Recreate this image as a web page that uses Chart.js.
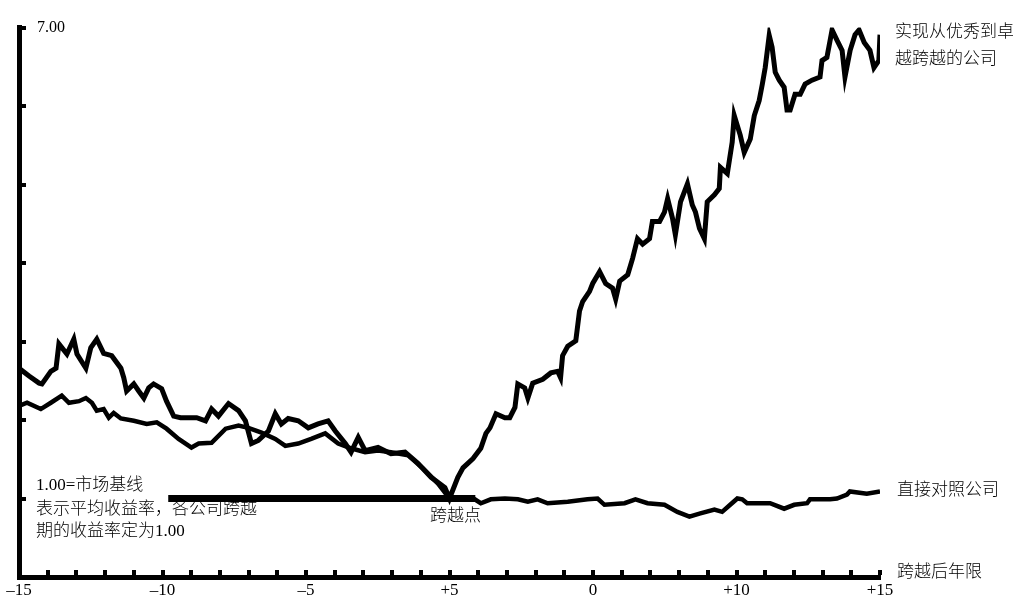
<!DOCTYPE html>
<html><head><meta charset="utf-8">
<script src="https://cdn.jsdelivr.net/npm/chart.js@4.4.0/dist/chart.umd.min.js"></script>
<style>html,body{margin:0;padding:0;background:#fff;}#wrap{width:1032px;height:613px;}</style>
</head><body><div id="wrap"><canvas id="c" width="1032" height="613"></canvas></div>
<script>
// ---- data (years relative to transition point; cumulative return vs market = 1.00) ----
const greatYears = [-15,-14.65,-14.3,-14.2,-13.89,-13.71,-13.61,-13.33,-13.09,-12.98,-12.67,-12.5,-12.29,-12.05,-11.77,-11.45,-11.35,-11.25,-11,-10.83,-10.65,-10.48,-10.31,-10.03,-9.86,-9.61,-9.37,-8.81,-8.5,-8.29,-8.05,-7.7,-7.35,-7.11,-6.9,-6.66,-6.31,-6.07,-5.86,-5.62,-5.27,-4.92,-4.58,-4.23,-3.98,-3.63,-3.43,-3.18,-2.94,-2.49,-2.04,-1.55,-1.1,-0.64,-0.16,0,
  0.29,0.47,0.82,1.09,1.27,1.41,1.62,1.93,2.1,2.28,2.38,2.62,2.73,2.9,3.25,3.53,3.77,3.87,3.94,4.12,4.4,4.53,4.64,4.88,4.99,5.23,5.44,5.68,5.79,5.93,6.21,6.38,6.55,6.73,6.97,7.07,7.32,7.49,7.6,7.77,7.87,8.05,8.29,8.46,8.57,8.71,8.88,8.98,9.23,9.4,9.44,9.68,9.85,9.92,10.13,10.27,10.48,10.62,10.79,10.9,11,11.14,11.24,11.35,11.49,11.66,11.76,11.87,12.04,12.22,12.39,12.63,12.91,12.98,13.15,13.33,13.5,13.68,13.78,13.96,14.13,14.27,14.45,14.65,14.79,14.96,15];
const greatValues = [2.66,2.56,2.47,2.46,2.62,2.66,2.97,2.84,3.03,2.84,2.66,2.92,3.03,2.85,2.82,2.66,2.54,2.37,2.46,2.37,2.28,2.41,2.46,2.4,2.24,2.05,2.03,2.03,1.99,2.14,2.05,2.21,2.12,1.99,1.7,1.74,1.86,2.08,1.95,2.02,1.99,1.9,1.95,1.99,1.86,1.7,1.59,1.78,1.61,1.65,1.57,1.59,1.45,1.27,1.14,1.0,
  1.27,1.39,1.51,1.64,1.83,1.9,2.08,2.03,2.03,2.16,2.46,2.41,2.28,2.47,2.52,2.6,2.62,2.54,2.82,2.94,3.01,3.39,3.51,3.64,3.74,3.89,3.74,3.68,3.54,3.77,3.85,4.06,4.31,4.24,4.31,4.53,4.53,4.65,4.82,4.57,4.36,4.78,5.01,4.74,4.65,4.44,4.31,4.78,4.87,4.95,5.22,5.14,5.54,5.88,5.63,5.41,5.58,5.88,6.07,6.28,6.49,6.9,6.75,6.43,6.33,6.24,5.95,5.95,6.15,6.15,6.28,6.33,6.37,6.58,6.62,6.97,6.84,6.71,6.37,6.71,6.91,6.97,6.81,6.71,6.49,6.58,6.91];

const compYears = [-15,-14.72,-14.24,-13.89,-13.51,-13.26,-12.91,-12.67,-12.46,-12.29,-12.05,-11.87,-11.7,-11.45,-11,-10.55,-10.2,-9.86,-9.44,-8.99,-8.74,-8.29,-7.8,-7.35,-7.01,-6.55,-6.07,-5.72,-5.27,-4.82,-4.33,-3.88,-3.43,-2.94,-2.49,-2.04,-1.44,-0.92,-0.4,0,
  0.29,0.88,1.09,1.44,1.93,2.38,2.73,3.07,3.42,4.12,4.81,5.16,5.4,6.1,6.48,6.9,7.49,7.94,8.36,8.74,9.23,9.5,9.78,10.03,10.2,10.37,11.17,11.66,12.01,12.46,12.56,13.26,13.5,13.85,13.95,14.54,15];
const compValues = [2.18,2.22,2.14,2.22,2.31,2.22,2.24,2.28,2.22,2.12,2.14,2.03,2.09,2.02,1.99,1.95,1.97,1.89,1.76,1.65,1.7,1.71,1.89,1.93,1.9,1.84,1.76,1.67,1.7,1.76,1.83,1.7,1.64,1.59,1.61,1.59,1.55,1.38,1.19,1.0,
  1.0,0.99,0.94,0.99,1.0,0.99,0.96,0.99,0.94,0.96,0.99,1.0,0.92,0.94,0.99,0.94,0.92,0.83,0.77,0.81,0.86,0.83,0.92,1.0,0.99,0.94,0.94,0.87,0.92,0.94,0.99,0.99,1.0,1.05,1.09,1.06,1.09];

const baselineYears = [-9.8, 0.9];
const baselineValues = [1, 1];

const xTickValues = [-15,-10,-5,0,5,10,15];
const xTickLabels = ['–15','–10','–5','+5','0','+10','+15'];
const yTickValues = [1,2,3,4,5,6,7];
const yTopLabel = '7.00';

const seriesLabels = ['实现从优秀到卓越跨越的公司','直接对照公司','1.00=市场基线'];

// ---- build ----
const toPts = (xs, ys) => xs.map((x,i)=>({x, y: ys[i]}));
const CJK = '"Liberation Serif", "Noto Sans CJK SC", serif';

const decor = {
  id: 'decor',
  afterDraw(chart) {
    const {ctx, scales:{x, y}} = chart;
    ctx.save();
    ctx.fillStyle = '#000';
    const axisY = y.getPixelForValue(0);
    for (let v = -15; v <= 15; v++) {
      const px = x.getPixelForValue(v);
      ctx.fillRect(Math.round(px) - 2, axisY - 7, 4, 5);
    }
    const axisX = x.getPixelForValue(-15);
    yTickValues.forEach(v => {
      const py = y.getPixelForValue(v);
      ctx.fillRect(axisX + 2, Math.round(py) - 2, 5, 4);
    });
    ctx.textBaseline = 'middle';
    ctx.textAlign = 'left';
    ctx.font = '300 17px ' + CJK;
    ctx.fillText('实现从优秀到卓', 895, 33);
    ctx.fillText('越跨越的公司', 895, 60);
    ctx.fillText('直接对照公司', 897, 491);
    ctx.fillText('跨越后年限', 897, 573);
    ctx.fillText('跨越点', 430, 517);
    ctx.fillText('1.00=市场基线', 36, 486);
    ctx.fillText('表示平均收益率，各公司跨越', 36, 510);
    ctx.fillText('期的收益率定为1.00', 36, 532);
    ctx.restore();
  }
};

new Chart(document.getElementById('c'), {
  type: 'line',
  data: {
    datasets: [
      { label: seriesLabels[0], data: toPts(greatYears, greatValues), borderColor: '#000', borderWidth: 5, pointRadius: 0, tension: 0, borderJoinStyle: 'miter', fill: false },
      { label: seriesLabels[1], data: toPts(compYears, compValues), borderColor: '#000', borderWidth: 4.5, pointRadius: 0, tension: 0, borderJoinStyle: 'miter', fill: false },
      { label: seriesLabels[2], data: toPts(baselineYears, baselineValues), borderColor: '#000', borderWidth: 7, pointRadius: 0, borderCapStyle: 'butt', fill: false }
    ]
  },
  options: {
    responsive: false,
    animation: false,
    events: [],
    layout: { padding: { left: 19, right: 152, top: 25, bottom: 0 } },
    plugins: { legend: { display: false }, tooltip: { enabled: false } },
    elements: { line: { clip: false } },
    scales: {
      x: {
        type: 'linear', min: -15, max: 15,
        afterBuildTicks: s => { s.ticks = xTickValues.map(v => ({value: v})); },
        afterFit: s => { s.height = 36; },
        ticks: {
          autoSkip: false, maxRotation: 0, padding: 3, color: '#000',
          font: { family: '"Liberation Serif", serif', size: 17 },
          callback: v => { const i = xTickValues.indexOf(v); return i >= 0 ? xTickLabels[i] : ''; }
        },
        grid: { display: true, drawOnChartArea: false, drawTicks: false, color: 'rgba(0,0,0,0)' },
        border: { display: true, color: '#000', width: 5 }
      },
      y: {
        type: 'linear', min: 0, max: 7,
        afterBuildTicks: s => { s.ticks = [{value: 7}]; },
        afterFit: s => { s.width = 0; },
        ticks: {
          mirror: true, padding: 18, color: '#000',
          font: { family: '"Liberation Serif", serif', size: 16 },
          callback: v => v === 7 ? yTopLabel : ''
        },
        grid: { display: true, drawOnChartArea: false, drawTicks: false, color: 'rgba(0,0,0,0)' },
        border: { display: true, color: '#000', width: 5 }
      }
    }
  },
  plugins: [decor]
});
</script>
</body></html>
